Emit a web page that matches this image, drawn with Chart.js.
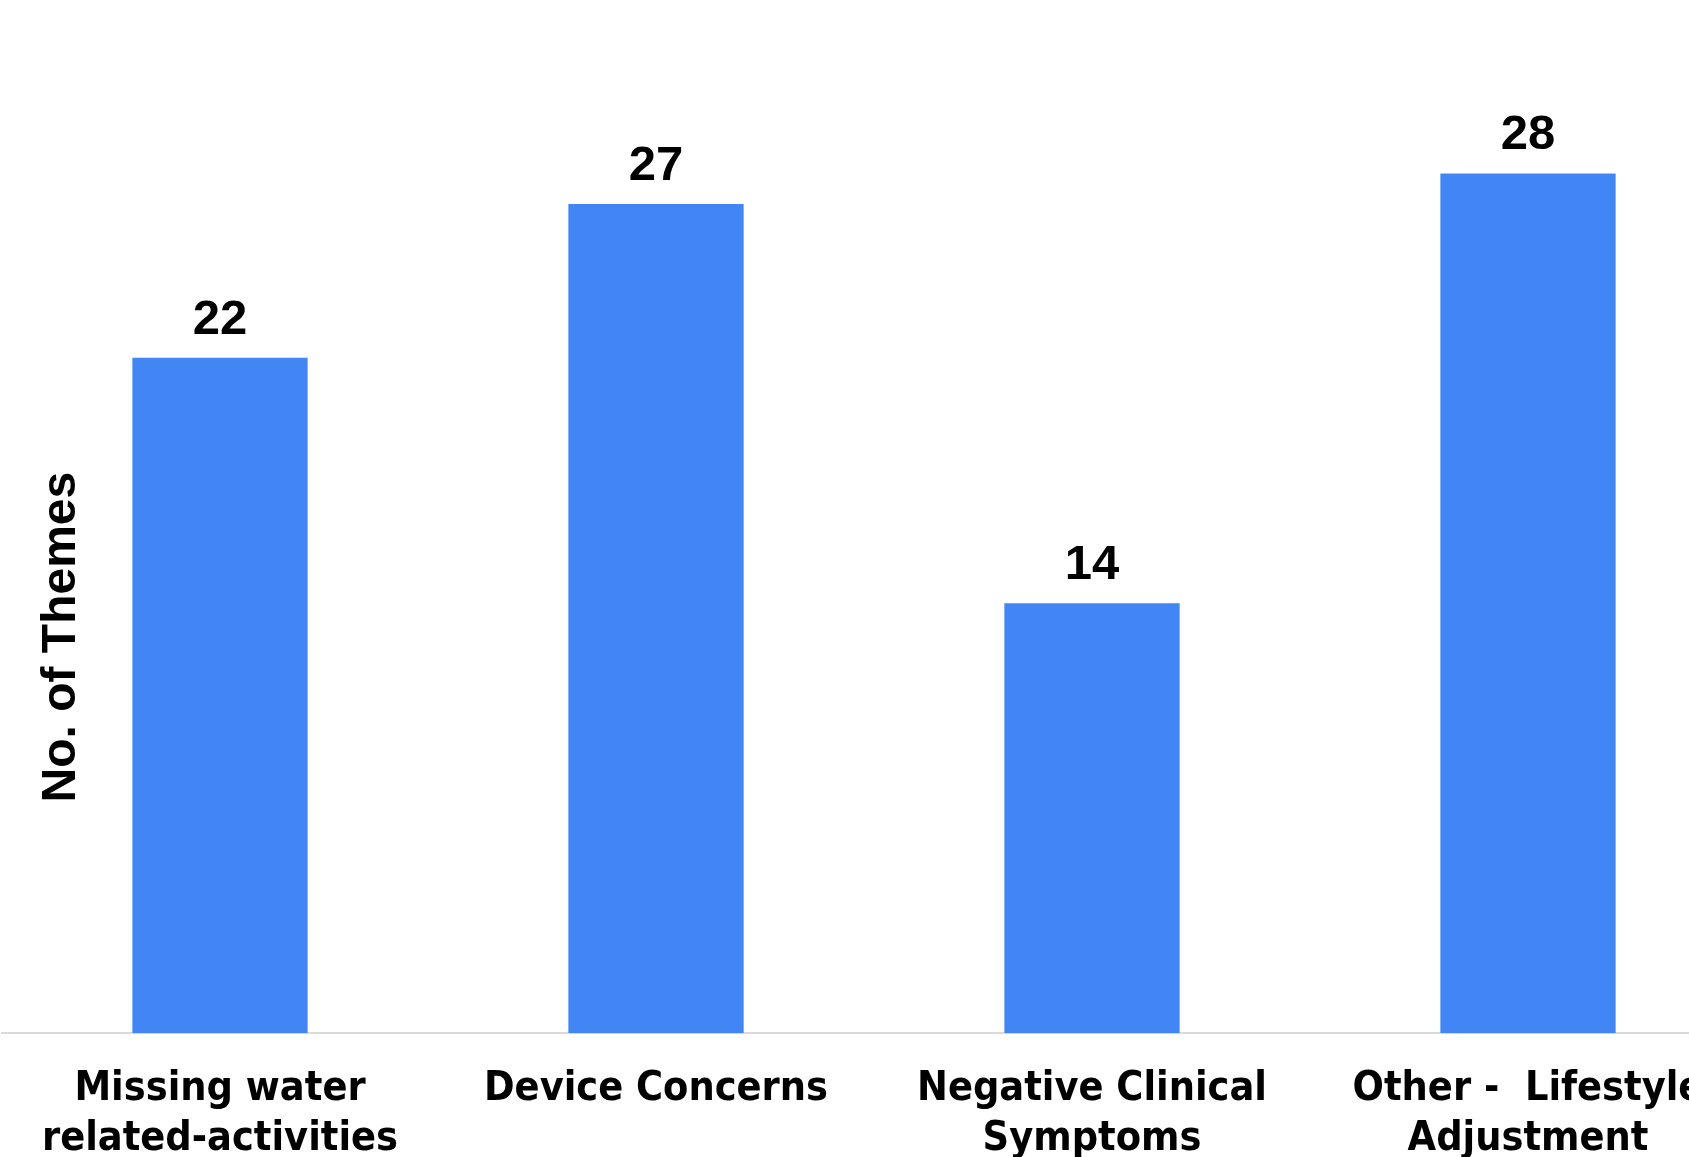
<!DOCTYPE html>
<html>
<head>
<meta charset="utf-8">
<script src="https://cdn.jsdelivr.net/npm/chart.js@4"></script>
<style>
  html, body { margin: 0; padding: 0; background: #fff; overflow: hidden; }
  #wrap { width: 1746px; height: 1196px; position: relative; }
</style>
</head>
<body>
<div id="wrap"><canvas id="themeChart"></canvas></div>
<script>
// categories and counts
const categories = [
    ['Missing water', 'related-activities'],
    ['Device Concerns'],
    ['Negative Clinical', 'Symptoms'],
    ['Other -  Lifestyle', 'Adjustment']
]
const themeCounts = [22, 27, 14, 28]
const yTitle = 'No. of Themes'

// draws the number above every bar
const valueLabels = {
    id: 'valueLabels',
    afterDatasetsDraw(chart) {
        let ctx = chart.ctx
        let meta = chart.getDatasetMeta(0)
        ctx.save()
        ctx.font = 'bold 49px "Liberation Sans", Arial, sans-serif'
        ctx.fillStyle = '#000'
        ctx.textAlign = 'center'
        ctx.textBaseline = 'alphabetic'
        meta.data.forEach((bar, i) => {
            ctx.fillText(String(chart.data.datasets[0].data[i]), bar.x, bar.y - 24)
        })
        ctx.restore()
    }
}

// y title sits inside the plot area in the original, so it is drawn here
const sideTitle = {
    id: 'sideTitle',
    afterDraw(chart) {
        let ctx = chart.ctx
        let area = chart.chartArea
        ctx.save()
        ctx.translate(area.left + 60, area.bottom - 396)
        ctx.rotate(-Math.PI / 2)
        ctx.font = 'bold 48px "Liberation Sans", Arial, sans-serif'
        ctx.fillStyle = '#000'
        ctx.textAlign = 'center'
        ctx.textBaseline = 'middle'
        ctx.fillText(yTitle, 0, 0)
        ctx.restore()
    }
}

const data = {
    labels: categories,
    datasets: [{
        label: yTitle,
        data: themeCounts,
        backgroundColor: '#4285f4',
        borderWidth: 0,
        categoryPercentage: 1.0,
        barPercentage: 0.402
    }]
}

const config = {
    type: 'bar',
    data: data,
    options: {
        responsive: true,
        maintainAspectRatio: false,
        animation: false,
        layout: { padding: { top: 112, left: 2, right: 0, bottom: 0 } },
        plugins: {
            legend: { display: false },
            tooltip: { enabled: false }
        },
        scales: {
            x: {
                grid: { display: false, drawTicks: false },
                border: { display: true, color: '#dadada', width: 2 },
                ticks: {
                    color: '#000',
                    padding: 31,
                    maxRotation: 0,
                    autoSkip: false,
                    font: { family: '"DejaVu Sans Condensed", "DejaVu Sans", sans-serif', weight: 'bold', size: 41, lineHeight: 1.23 }
                }
            },
            y: {
                display: false,
                min: 0,
                max: 30
            }
        }
    },
    plugins: [valueLabels, sideTitle]
}

let ctx = document.getElementById('themeChart').getContext('2d')
new Chart(ctx, config)
</script>
</body>
</html>
